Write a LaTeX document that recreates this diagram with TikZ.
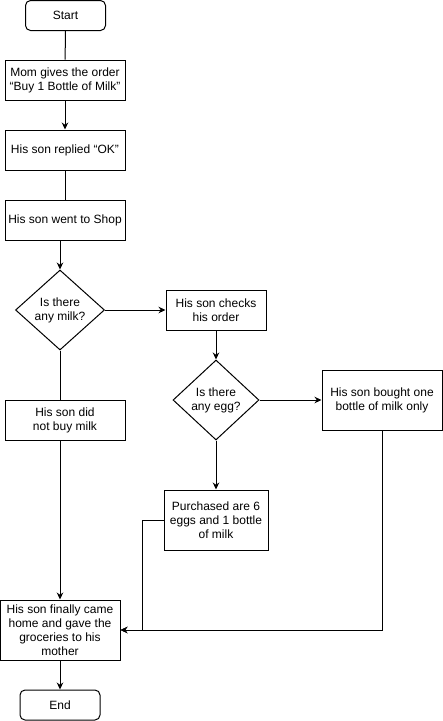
\documentclass[tikz,border=0pt]{standalone}
\usepackage{fontspec}
\setmainfont{Liberation Sans}
\usetikzlibrary{shapes.geometric,arrows.meta}

\begin{document}
\begin{tikzpicture}[x=1pt,y=-1pt,line width=1pt,
    font=\fontsize{12}{14}\selectfont,
    box/.style={draw,align=center,inner sep=0pt,minimum width=120pt,minimum height=40pt},
    terminal/.style={draw,rounded corners=5pt,inner sep=0pt,minimum width=80pt,minimum height=30pt},
    decision/.style={draw,diamond,aspect=1.125,align=center,inner sep=0pt,minimum width=89pt,minimum height=80pt},
    >={Stealth[length=7pt,width=6.5pt]}]
      \useasboundingbox (0,0) rectangle (443,721);
      \draw
        (65.5,15.5) node[terminal] (start){Start}
        (65,80) node[box] (order){Mom gives the order\\“Buy 1 Bottle of Milk”}
        (65,150) node[box] (replied){His son replied “OK”}
        (65,220) node[box] (shop){His son went to Shop}
        (60,310) node[decision] (milk){Is there\\any milk?}
        (216,310) node[box,minimum width=100pt] (checks){His son checks\\his order}
        (216,400) node[decision,minimum width=86pt] (egg){Is there\\any egg?}
        (382,400) node[box,minimum height=60pt] (bought){His son bought one\\bottle of milk only}
        (65,420) node[box] (nobuy){His son did\\not buy milk}
        (216,520) node[box,minimum width=104pt,minimum height=60pt] (purchased){Purchased are 6\\eggs and 1 bottle\\of milk}
        (60,630) node[box,minimum height=60pt] (final){His son finally came\\home and gave the\\groceries to his\\mother}
        (60,705) node[terminal] (end){End};
      \begin{scope}[->]
        \draw (order) -- (replied);
        \draw (shop.south -| milk.north) -- (milk.north);
        \draw (milk) -- (checks);
        \draw (checks) -- (egg);
        \draw (egg) -- (bought);
        \draw (egg) -- (purchased);
        \draw (nobuy.south -| final.north) -- (final);
        \draw (bought.south) |- (final.east);
        \draw (purchased.west) -- ++(-21,0) |- (final.east);
        \draw (final) -- (end);
      \end{scope}
      \begin{scope}[-]
        \draw (start) -- (order);
        \draw (replied) -- (shop);
        \draw (milk) -- (milk |- nobuy.north);
      \end{scope}
    \end{tikzpicture}
\end{document}
